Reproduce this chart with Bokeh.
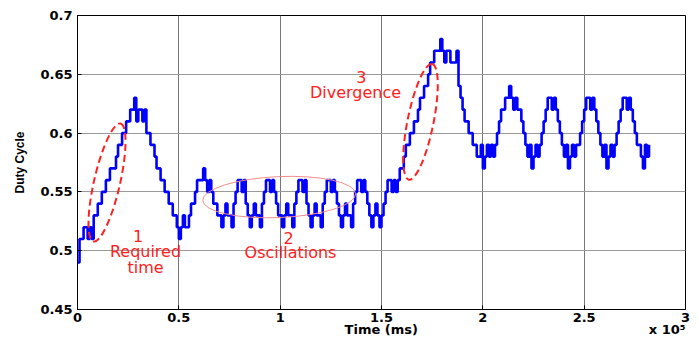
from bokeh.plotting import figure
from bokeh.models import FixedTicker, Label, ColumnDataSource
from bokeh.embed import file_html
from bokeh.resources import INLINE

# Duty cycle sampled every 0.01 (x 10^5) from t = 0 to t = 2.82
duty = [
    0.49, 0.51, 0.51, 0.52, 0.52, 0.51, 0.52, 0.51, 0.53, 0.53,
    0.54, 0.54, 0.55, 0.55, 0.56, 0.56, 0.57, 0.57, 0.57, 0.58,
    0.59, 0.59, 0.60, 0.60, 0.61, 0.61, 0.62, 0.62, 0.63, 0.61,
    0.62, 0.62, 0.61, 0.62, 0.60, 0.60, 0.59, 0.59, 0.58, 0.57,
    0.57, 0.56, 0.56, 0.55, 0.55, 0.54, 0.54, 0.53, 0.53, 0.52,
    0.51, 0.52, 0.53, 0.52, 0.52, 0.53, 0.54, 0.54, 0.55, 0.56,
    0.56, 0.56, 0.57, 0.56, 0.55, 0.56, 0.55, 0.54, 0.54, 0.53,
    0.53, 0.52, 0.53, 0.54, 0.53, 0.53, 0.52, 0.54, 0.55, 0.56,
    0.56, 0.55, 0.56, 0.54, 0.53, 0.52, 0.53, 0.54, 0.53, 0.53,
    0.52, 0.54, 0.55, 0.56, 0.56, 0.55, 0.56, 0.55, 0.54, 0.53,
    0.53, 0.52, 0.53, 0.54, 0.53, 0.53, 0.52, 0.54, 0.55, 0.56,
    0.56, 0.55, 0.56, 0.54, 0.53, 0.52, 0.53, 0.54, 0.53, 0.53,
    0.52, 0.54, 0.55, 0.56, 0.56, 0.55, 0.56, 0.55, 0.54, 0.53,
    0.52, 0.53, 0.54, 0.53, 0.53, 0.52, 0.54, 0.55, 0.56, 0.56,
    0.55, 0.56, 0.55, 0.54, 0.53, 0.52, 0.53, 0.54, 0.53, 0.52,
    0.53, 0.54, 0.55, 0.56, 0.56, 0.55, 0.56, 0.55, 0.56, 0.57,
    0.57, 0.58, 0.59, 0.59, 0.60, 0.60, 0.61, 0.61, 0.62, 0.63,
    0.63, 0.64, 0.64, 0.65, 0.66, 0.66, 0.67, 0.67, 0.67, 0.68,
    0.67, 0.66, 0.67, 0.67, 0.66, 0.66, 0.66, 0.67, 0.64, 0.63,
    0.62, 0.61, 0.61, 0.60, 0.60, 0.59, 0.59, 0.58, 0.58, 0.59,
    0.57, 0.58, 0.59, 0.58, 0.59, 0.58, 0.59, 0.60, 0.61, 0.62,
    0.62, 0.63, 0.63, 0.64, 0.63, 0.62, 0.63, 0.62, 0.62, 0.61,
    0.60, 0.59, 0.58, 0.59, 0.57, 0.58, 0.59, 0.58, 0.59, 0.60,
    0.61, 0.62, 0.63, 0.63, 0.62, 0.63, 0.62, 0.61, 0.60, 0.59,
    0.58, 0.59, 0.57, 0.58, 0.59, 0.58, 0.59, 0.59, 0.60, 0.61,
    0.62, 0.63, 0.63, 0.62, 0.63, 0.62, 0.61, 0.60, 0.59, 0.58,
    0.59, 0.57, 0.58, 0.59, 0.58, 0.59, 0.60, 0.61, 0.62, 0.63,
    0.63, 0.62, 0.63, 0.62, 0.61, 0.60, 0.59, 0.59, 0.58, 0.57,
    0.59, 0.58, 0.59,
]
time_e5 = [round(i * 0.01, 2) for i in range(len(duty))]

x_ticks = [0, 0.5, 1, 1.5, 2, 2.5, 3]
x_tick_labels = ["0", "0.5", "1", "1.5", "2", "2.5", "3"]
y_ticks = [0.45, 0.5, 0.55, 0.6, 0.65, 0.7]
y_tick_labels = ["0.45", "0.5", "0.55", "0.6", "0.65", "0.7"]

x_title = "Time (ms)"
exponent_note = "x 10\u2075"
NB = "\u00a0"
# axis title centred under the frame, exponent note flush with its right end
x_axis_text = NB * 59 + x_title + NB * 51 + exponent_note

RED = "#ff2020"
FONT = "DejaVu Sans"

p = figure(width=699, height=340, x_range=(0, 3), y_range=(0.45, 0.7),
           output_backend="svg", toolbar_location=None,
           min_border_left=77, min_border_right=14,
           min_border_top=15, min_border_bottom=31)
p.background_fill_color = "white"
p.border_fill_color = "white"
p.outline_line_color = "black"
p.outline_line_width = 1

p.xaxis.ticker = FixedTicker(ticks=x_ticks)
p.yaxis.ticker = FixedTicker(ticks=y_ticks)
p.xaxis.major_label_overrides = dict(zip(x_ticks, x_tick_labels))
p.yaxis.major_label_overrides = dict(zip(y_ticks, y_tick_labels))
for ax in (p.xaxis, p.yaxis):
    ax.major_tick_in = 4
    ax.major_tick_out = 0
    ax.minor_tick_line_color = None
    ax.axis_line_color = "black"
    ax.major_tick_line_color = "black"
    ax.major_label_text_font = FONT
    ax.major_label_text_font_style = "bold"
    ax.major_label_text_font_size = "13px"
    ax.major_label_text_color = "black"
    ax.axis_label_text_color = "black"
    ax.axis_label_text_font_style = "bold"
p.xaxis.major_label_standoff = 3
p.yaxis.major_label_standoff = 5

p.xaxis.axis_label = x_axis_text
p.xaxis.axis_label_text_font = FONT
p.xaxis.axis_label_text_font_size = "13px"
p.xaxis.axis_label_standoff = -3

p.yaxis.axis_label = "Duty Cycle"
p.yaxis.axis_label_text_font = "Liberation Sans"
p.yaxis.axis_label_text_font_size = "12px"
p.yaxis.axis_label_standoff = 10

p.xgrid.grid_line_color = "#777777"
p.ygrid.grid_line_color = "#999999"
p.xgrid.grid_line_width = 1
p.ygrid.grid_line_width = 1

src = ColumnDataSource(data=dict(t=time_e5, d=duty))
p.step(x="t", y="d", source=src, mode="after", line_color="#0000ff", line_width=2.6)

# annotation ellipses
p.ellipse(x=[0.1456], y=[0.558], width=[121], height=[26], angle=[77.1],
          angle_units="deg", width_units="screen", height_units="screen",
          fill_color=None, line_color=RED, line_width=2, line_dash="7 4")
p.ellipse(x=[1.6924], y=[0.6096], width=[118], height=[26], angle=[78.6],
          angle_units="deg", width_units="screen", height_units="screen",
          fill_color=None, line_color=RED, line_width=2, line_dash="7 4")
p.ellipse(x=[0.9952], y=[0.5456], width=[153], height=[41], angle=[2.5],
          angle_units="deg", width_units="screen", height_units="screen",
          fill_color=None, line_color="#f08c8c", line_width=1)

def txt(x, y, s, size="16px"):
    p.add_layout(Label(x=x, y=y, text=s, text_align="center", text_baseline="middle",
                       text_font=FONT, text_font_size=size, text_color=RED))

txt(0.2985, 0.5125, "1")
txt(0.3355, 0.4993, "Required")
txt(0.3355, 0.4857, "time")
txt(1.041, 0.5112, "2")
txt(1.051, 0.4985, "Oscillations")
txt(1.401, 0.6481, "3")
txt(1.372, 0.6345, "Divergence")

open("out.html", "w").write(file_html(p, INLINE))
